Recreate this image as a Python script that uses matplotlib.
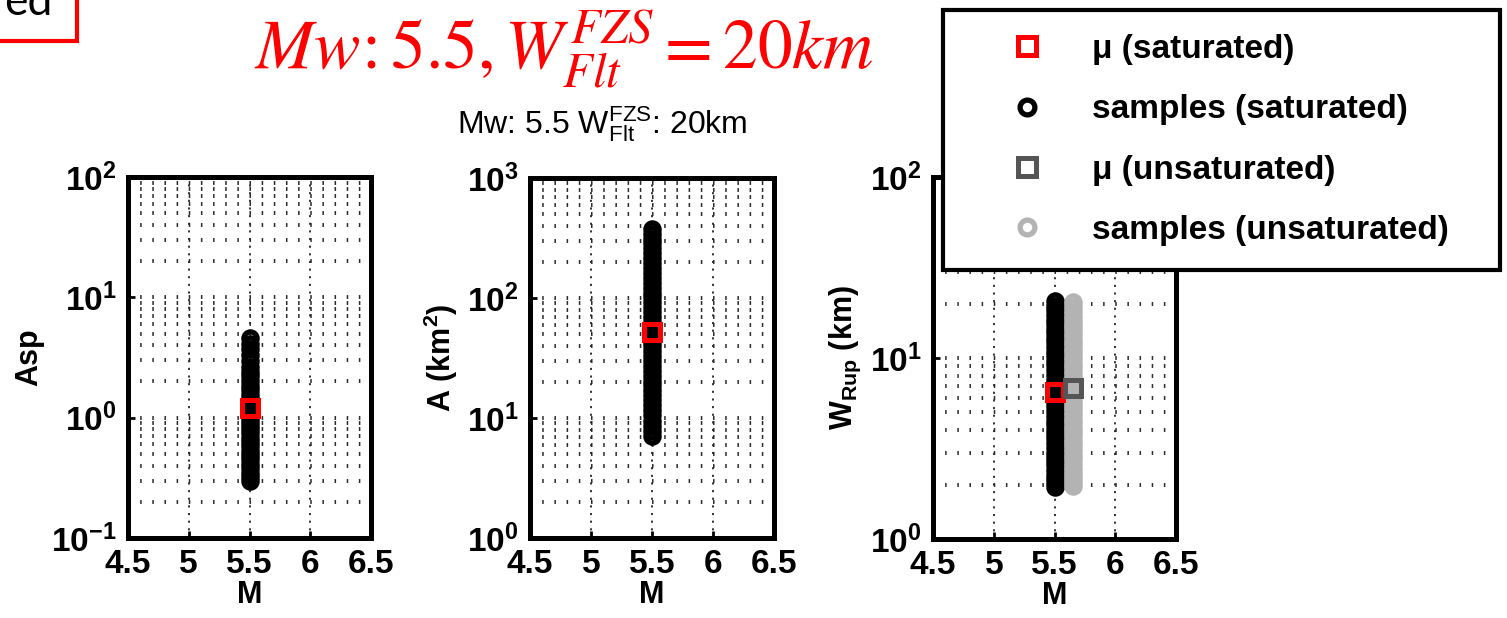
import numpy as np
import matplotlib
matplotlib.use("Agg")
import matplotlib.pyplot as plt
from matplotlib.ticker import FixedLocator, FuncFormatter, LogLocator, NullFormatter
from matplotlib.patches import Rectangle

plt.rcParams['font.family'] = ['Liberation Sans', 'DejaVu Sans']
plt.rcParams['mathtext.fontset'] = 'custom'
plt.rcParams['mathtext.rm'] = 'Liberation Sans'
plt.rcParams['mathtext.bf'] = 'Liberation Sans:bold'
plt.rcParams['mathtext.it'] = 'Liberation Sans:italic'
plt.rcParams['lines.scale_dashes'] = False

#%% data

m_mean = 5.5
m_unsat = 5.65

asp_samples = [0.30, 0.32, 0.35, 0.38, 0.41, 0.45, 0.49, 0.53, 0.58, 0.63, 0.68,
               0.74, 0.80, 0.87, 0.94, 1.02, 1.10, 1.20, 1.30, 1.42, 1.55, 1.70,
               1.85, 2.02, 2.20, 2.40, 2.65, 2.95, 3.30, 3.70, 4.10, 4.60]
asp_mean = 1.21

area_samples = [7.1, 7.8, 8.6, 9.5, 10.5, 11.6, 12.8, 14.1, 15.5, 17.0, 18.7, 20.5,
                22.5, 24.7, 27.1, 29.8, 32.8, 36.0, 39.5, 43.4, 47.7, 52.4, 57.6,
                63.3, 69.6, 76.5, 84.0, 92.0, 101, 111, 122, 134, 147, 162, 178,
                196, 215, 236, 260, 285, 313, 344, 376]
area_mean = 52

w_sat_samples = [1.95, 2.05, 2.15, 2.25, 2.4, 2.55, 2.7, 2.85, 3.0, 3.2, 3.4, 3.6,
                 3.8, 4.0, 4.25, 4.5, 4.8, 5.1, 5.4, 5.7, 6.0, 6.4, 6.8, 7.2, 7.6,
                 8.1, 8.6, 9.1, 9.6, 10.2, 10.8, 11.5, 12.2, 12.9, 13.7, 14.5,
                 15.4, 16.3, 17.3, 18.4, 19.5, 20.7]
w_sat_mean = 6.5

w_unsat_samples = [1.97, 2.07, 2.18, 2.3, 2.45, 2.6, 2.75, 2.9, 3.1, 3.3, 3.5, 3.7,
                   3.9, 4.1, 4.35, 4.6, 4.9, 5.2, 5.5, 5.8, 6.2, 6.6, 7.0, 7.4,
                   7.9, 8.4, 8.9, 9.4, 10.0, 10.6, 11.2, 11.9, 12.6, 13.4, 14.2,
                   15.0, 15.9, 16.9, 18.0, 19.1, 20.3]
w_unsat_mean = 6.8

xticks = [4.5, 5, 5.5, 6, 6.5]

#%% figure

W, H = 1507, 618
fig = plt.figure(figsize=(W/100, H/100), dpi=100)

def px_box(left, right, top, bottom):
    return [left/W, 1 - bottom/H, (right-left)/W, (bottom-top)/H]

positions = [px_box(128, 371, 177, 538),
             px_box(530, 774, 178, 538),
             px_box(933, 1176, 177, 539)]
ylims = [(1e-1, 1e2), (1e0, 1e3), (1e0, 1e2)]
ylabels = ['Asp', r'A (km$^{\mathbf{2}}$)', r'W$_{\mathbf{Rup}}$ (km)']

def dec_fmt(v, pos):
    return r'$\mathbf{10^{%d}}$' % int(round(np.log10(v)))

axes = []
for pos, yl, lab in zip(positions, ylims, ylabels):
    ax = fig.add_axes(pos)
    ax.set_xlim(4.5, 6.5)
    ax.set_yscale('log')
    ax.set_ylim(*yl)
    ax.xaxis.set_major_locator(FixedLocator(xticks))
    ax.xaxis.set_major_formatter(FuncFormatter(lambda v, p: '%g' % v))
    decs = 10.0 ** np.arange(np.log10(yl[0]), np.log10(yl[1]) + 1)
    ax.yaxis.set_major_locator(FixedLocator(decs))
    ax.yaxis.set_major_formatter(FuncFormatter(dec_fmt))
    ax.yaxis.set_minor_locator(LogLocator(base=10, subs=np.arange(2, 10)))
    ax.yaxis.set_minor_formatter(NullFormatter())

    # matlab-ish dotted grid: rows of short dashes every 0.1 in M
    ax_w_pt = pos[2] * W / 100 * 72
    period = ax_w_pt * 0.1 / 2.0
    ax.yaxis.grid(True, which='both', color='#2a2a2a', linewidth=2.8,
                  linestyle=(0, (1.1, period - 1.1)))
    ax.xaxis.grid(True, which='major', color='#222222', linewidth=1.3,
                  linestyle=(0, (1.5, 4.0)))
    ax.set_axisbelow(True)

    for s in ax.spines.values():
        s.set_linewidth(3.6)
    ax.tick_params(which='major', direction='in', length=5, width=2,
                   labelsize=24, pad=8)
    ax.tick_params(which='minor', direction='in', length=0)
    for t in ax.get_xticklabels() + ax.get_yticklabels():
        t.set_fontweight('bold')
    ax.set_xlabel('M', fontsize=22, fontweight='bold', labelpad=0)
    ax.set_ylabel(lab, fontsize=22, fontweight='bold', labelpad=5)
    axes.append(ax)

samp_kw = dict(ls='none', marker='o', mfc='none', ms=9.5, mew=3.8)
mean_kw = dict(ls='none', marker='s', mfc='none', ms=12, mew=3.6)

axes[0].plot([m_mean] * len(asp_samples), asp_samples, mec='k', **samp_kw)
axes[0].plot([m_mean], [asp_mean], mec='red', **mean_kw)

axes[1].plot([m_mean] * len(area_samples), area_samples, mec='k', **samp_kw)
axes[1].plot([m_mean], [area_mean], mec='red', **mean_kw)

ax3 = axes[2]
h_samp_sat, = ax3.plot([m_mean] * len(w_sat_samples), w_sat_samples, mec='k',
                       label='samples (saturated)', **samp_kw)
h_samp_uns, = ax3.plot([m_unsat] * len(w_unsat_samples), w_unsat_samples,
                       mec='#b3b3b3', label='samples (unsaturated)', **samp_kw)
h_mu_sat, = ax3.plot([m_mean], [w_sat_mean], mec='red',
                     label='μ (saturated)', **mean_kw)
h_mu_uns, = ax3.plot([m_unsat], [w_unsat_mean], mec='#555555',
                     label='μ (unsaturated)', **mean_kw)

leg = fig.legend(handles=[h_mu_sat, h_samp_sat, h_mu_uns, h_samp_uns],
                 loc='upper left', bbox_to_anchor=(943/W, 0, 557/W, 1 - 10/H),
                 mode='expand', borderaxespad=0, fancybox=False, framealpha=1,
                 edgecolor='k', prop=dict(size=24, weight='bold'),
                 handlelength=3.6, handletextpad=0.15, borderpad=0.72,
                 labelspacing=0.88, markerscale=1.12)
leg.get_frame().set_linewidth(3)

# titles
fig.text(564/W, 1 - 50/H, r'$Mw\!:5.5,W_{Flt}^{FZS}=20km$', color='red',
         fontsize=50, ha='center', va='center', math_fontfamily='stix')
fig.text(602/W, 1 - 133/H, r'Mw: 5.5 W$^{\mathrm{FZS}}_{\mathrm{Flt}}$: 20km',
         fontsize=23, ha='center', va='baseline')

# bit of a slide box cut off at the top left
fig.patches.append(Rectangle((-10/W, 1 - 41/H), 87/W, 60/H, transform=fig.transFigure,
                             fill=False, edgecolor='red', linewidth=3))
fig.text(52/W, 1 - 15/H, 'ed', fontsize=32, ha='right', va='baseline',
         family='Lato')

fig.savefig('out.png', dpi=100)
